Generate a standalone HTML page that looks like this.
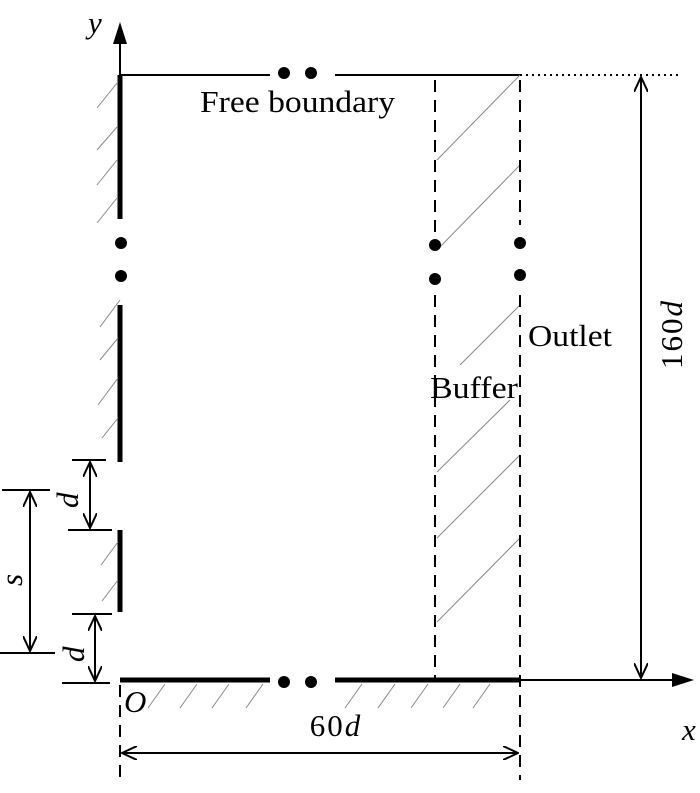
<!DOCTYPE html>
<html><head><style>body{margin:0;background:#fff}svg{display:block}</style></head><body>
<svg width="700" height="793" viewBox="0 0 700 793" xmlns="http://www.w3.org/2000/svg" font-family="Liberation Serif, serif">
<defs>
<marker id="a" markerWidth="16" markerHeight="14" refX="15" refY="7" orient="auto-start-reverse" markerUnits="userSpaceOnUse"><path d="M0,0 L15,7 L0,14" fill="none" stroke="#000" stroke-width="2"/></marker>
</defs>
<line x1="120" y1="75" x2="120" y2="40" stroke="#000" stroke-width="2"/>
<polygon points="120,22 113,44 127,44" fill="#000"/>
<line x1="120" y1="75" x2="270" y2="75" stroke="#000" stroke-width="2"/>
<line x1="335" y1="75" x2="520" y2="75" stroke="#000" stroke-width="2"/>
<line x1="520" y1="75" x2="682" y2="75" stroke="#000" stroke-width="2" stroke-dasharray="2,4"/>
<circle cx="284" cy="73" r="6"/><circle cx="311" cy="73" r="6"/>
<g stroke="#000" stroke-width="5">
<line x1="120" y1="75" x2="120" y2="219"/>
<line x1="120" y1="305" x2="120" y2="462"/>
<line x1="120" y1="530" x2="120" y2="612"/>
<line x1="120" y1="680" x2="270" y2="680"/>
<line x1="335" y1="680" x2="520" y2="680"/>
</g>
<circle cx="121" cy="243" r="6"/><circle cx="121" cy="276" r="6"/>
<circle cx="284" cy="682" r="6"/><circle cx="311" cy="682" r="6"/>
<g stroke="#888" stroke-width="1">
<line x1="117" y1="83" x2="97" y2="108"/><line x1="117" y1="127" x2="97" y2="150"/>
<line x1="117" y1="160" x2="97" y2="185"/><line x1="117" y1="198" x2="97" y2="223"/>
<line x1="120" y1="300" x2="100" y2="327"/><line x1="118" y1="338" x2="100" y2="360"/>
<line x1="118" y1="378" x2="98" y2="405"/><line x1="118" y1="418" x2="102" y2="438"/>
<line x1="118" y1="542" x2="101" y2="565"/><line x1="118" y1="580" x2="102" y2="601"/>
<line x1="165" y1="684" x2="148" y2="708"/><line x1="197" y1="684" x2="180" y2="708"/>
<line x1="229" y1="684" x2="212" y2="708"/><line x1="263" y1="684" x2="246" y2="708"/>
<line x1="362" y1="684" x2="345" y2="708"/><line x1="395" y1="684" x2="378" y2="708"/>
<line x1="428" y1="684" x2="411" y2="708"/><line x1="460" y1="684" x2="443" y2="708"/>
<line x1="490" y1="684" x2="473" y2="708"/>
<line x1="520" y1="75" x2="437" y2="160"/><line x1="520" y1="165" x2="437" y2="250"/>
<line x1="520" y1="305" x2="460" y2="365"/><line x1="510" y1="400" x2="437" y2="472"/>
<line x1="520" y1="455" x2="437" y2="538"/><line x1="520" y1="538" x2="437" y2="622"/>
</g>
<line x1="435" y1="80" x2="435" y2="232" stroke="#000" stroke-width="2" stroke-dasharray="12,8"/>
<line x1="435" y1="295" x2="435" y2="680" stroke="#000" stroke-width="2" stroke-dasharray="12,8"/>
<line x1="520" y1="80" x2="520" y2="225" stroke="#000" stroke-width="2" stroke-dasharray="12,8"/>
<line x1="520" y1="295" x2="520" y2="780" stroke="#000" stroke-width="2" stroke-dasharray="12,8"/>
<line x1="120" y1="685" x2="120" y2="780" stroke="#000" stroke-width="2" stroke-dasharray="12,8"/>
<circle cx="435" cy="245" r="6"/><circle cx="435" cy="279" r="6"/>
<circle cx="520" cy="243" r="6"/><circle cx="520" cy="275" r="6"/>
<line x1="520" y1="680" x2="675" y2="680" stroke="#000" stroke-width="2"/>
<polygon points="694,680 672,673 672,687" fill="#000"/>
<g stroke="#000" stroke-width="2" fill="none">
<line x1="72" y1="460" x2="106" y2="460"/><line x1="68" y1="530" x2="112" y2="530"/>
<line x1="90" y1="462" x2="90" y2="528" marker-end="url(#a)" marker-start="url(#a)"/>
<line x1="2" y1="490" x2="50" y2="490"/><line x1="0" y1="653" x2="55" y2="653"/>
<line x1="30" y1="492" x2="30" y2="651" marker-end="url(#a)" marker-start="url(#a)"/>
<line x1="72" y1="614" x2="112" y2="614"/><line x1="62" y1="683" x2="110" y2="683"/>
<line x1="95" y1="616" x2="95" y2="681" marker-end="url(#a)" marker-start="url(#a)"/>
<line x1="122" y1="753" x2="518" y2="753" marker-end="url(#a)" marker-start="url(#a)"/>
<line x1="641" y1="77" x2="641" y2="678" marker-end="url(#a)" marker-start="url(#a)"/>
</g>
<g font-size="31" fill="#000">
<text x="200" y="112" textLength="195" lengthAdjust="spacingAndGlyphs">Free boundary</text>
<text x="528" y="346" textLength="84" lengthAdjust="spacingAndGlyphs">Outlet</text>
<text x="430" y="398" textLength="88" lengthAdjust="spacingAndGlyphs">Buffer</text>
<text x="336" y="736" text-anchor="middle" letter-spacing="2">60<tspan font-style="italic">d</tspan></text>
<text transform="translate(682,334) rotate(-90)" text-anchor="middle" letter-spacing="2">160<tspan font-style="italic">d</tspan></text>
<text x="88" y="33" font-style="italic">y</text>
<text x="682" y="740" font-style="italic">x</text>
<text x="124" y="712" font-style="italic">O</text>
<text transform="translate(78,508) rotate(-90)" font-style="italic">d</text>
<text transform="translate(84,662) rotate(-90)" font-style="italic">d</text>
<text transform="translate(22,586) rotate(-90)" font-style="italic">s</text>
</g>
</svg>
</body></html>
